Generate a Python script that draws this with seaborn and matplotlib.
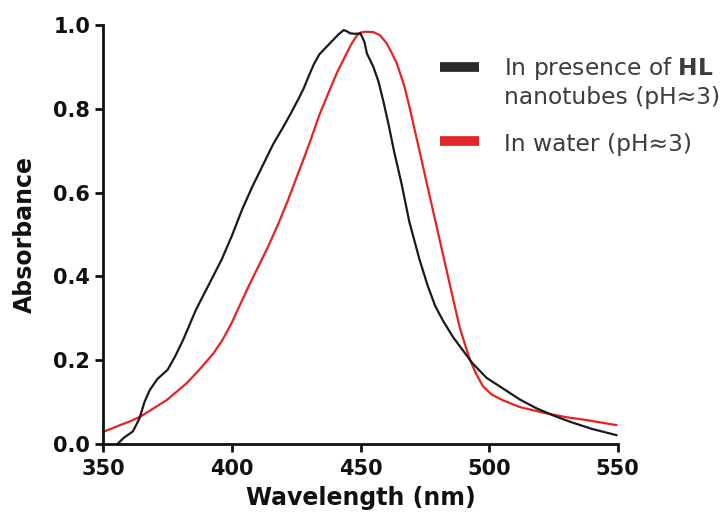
import matplotlib
matplotlib.use("Agg")
import matplotlib.pyplot as plt
import seaborn as sns
import pandas as pd
from matplotlib.lines import Line2D

# UV-vis absorbance spectra (normalised)
wl_hl = [355.5, 358, 361.5, 364, 366, 368, 371, 375, 378, 381, 386, 390, 396,
         400, 404, 408, 412, 416, 420, 423, 426, 428, 430, 432, 434, 436.5,
         439, 441.5, 443.5, 445, 446, 448, 450, 451.5, 452.5, 455, 457, 459,
         461, 463, 466, 469, 473, 476, 479, 482, 486, 490, 493.5, 499, 505.5,
         512, 518.5, 525, 531.5, 540, 549.6]
abs_hl = [0.0, 0.015, 0.03, 0.06, 0.10, 0.128, 0.155, 0.177, 0.21, 0.248, 0.32,
          0.368, 0.44, 0.497, 0.56, 0.615, 0.665, 0.715, 0.757, 0.79, 0.825,
          0.85, 0.88, 0.908, 0.93, 0.946, 0.962, 0.978, 0.988, 0.984, 0.98,
          0.979, 0.98, 0.96, 0.932, 0.90, 0.865, 0.815, 0.76, 0.70, 0.62, 0.53,
          0.439, 0.38, 0.33, 0.295, 0.255, 0.222, 0.193, 0.158, 0.132, 0.106,
          0.085, 0.068, 0.053, 0.036, 0.021]

wl_water = [350, 356.5, 360, 364.3, 369, 374.7, 382.4, 387, 392.8, 396.5, 400,
            403, 406, 410, 414, 418, 422, 426, 430, 434, 438, 441, 444, 446.5,
            448.5, 450, 452, 455, 457.5, 460.2, 462, 464.1, 467, 469.2, 473.1,
            476, 479.6, 482.2, 485, 488.5, 490.5, 492.6, 495, 497.7, 501, 505.5,
            512, 522.4, 530, 538, 549.6]
abs_water = [0.029, 0.045, 0.053, 0.065, 0.083, 0.105, 0.145, 0.175, 0.216,
             0.25, 0.29, 0.33, 0.37, 0.42, 0.47, 0.525, 0.585, 0.65, 0.715,
             0.785, 0.845, 0.888, 0.925, 0.955, 0.974, 0.982, 0.984, 0.983,
             0.976, 0.956, 0.935, 0.909, 0.855, 0.80, 0.695, 0.616, 0.519,
             0.449, 0.373, 0.28, 0.24, 0.20, 0.167, 0.137, 0.118, 0.104, 0.088,
             0.073, 0.064, 0.057, 0.045]

labels = ["In presence of $\\mathbf{HL}$", "nanotubes (pH\u22483)", "In water (pH\u22483)"]
line_colors = ["#1a1a1a", "#e8221f"]
legend_colors = ["#2a2a2a", "#e0282c"]

sns.set_theme(style="ticks")
plt.rcParams["font.family"] = ["DejaVu Sans"]
plt.rcParams["mathtext.fontset"] = "dejavusans"

fig = plt.figure(figsize=(7.21, 5.2), dpi=100)
ax = fig.add_axes([103.3 / 721, 1 - 444 / 520, (617.7 - 103.3) / 721, (444 - 25) / 520])

df_hl = pd.DataFrame({"wl": wl_hl, "abs": abs_hl})
df_w = pd.DataFrame({"wl": wl_water, "abs": abs_water})
sns.lineplot(data=df_w, x="wl", y="abs", color=line_colors[1], lw=1.6,
             sort=False, estimator=None, ax=ax, clip_on=False)
sns.lineplot(data=df_hl, x="wl", y="abs", color=line_colors[0], lw=1.6,
             sort=False, estimator=None, ax=ax, clip_on=False)

ax.set_xlim(350, 550)
ax.set_ylim(0, 1.0)
ax.set_xticks([350, 400, 450, 500, 550])
ax.set_yticks([0.0, 0.2, 0.4, 0.6, 0.8, 1.0])
ax.set_yticklabels([f"{v:.1f}" for v in [0.0, 0.2, 0.4, 0.6, 0.8, 1.0]])
for s in ["top", "right"]:
    ax.spines[s].set_visible(False)
for s in ["left", "bottom"]:
    ax.spines[s].set_linewidth(2.0)
    ax.spines[s].set_color("#111111")
ax.tick_params(axis="both", direction="out", length=6, width=2.0, color="#111111",
               labelsize=15, labelcolor="#111111")
ax.tick_params(axis="x", pad=5)
ax.tick_params(axis="y", pad=3.5)
for lab in ax.get_xticklabels() + ax.get_yticklabels():
    lab.set_fontweight("bold")

ax.set_xlabel("Wavelength (nm)", fontsize=17, fontweight="bold", labelpad=5, color="#111111")
ax.set_ylabel("Absorbance", fontsize=17, fontweight="bold", labelpad=12, color="#111111")

# legend drawn in figure coordinates
def fy(px):
    return 1 - px / 520

fig.add_artist(Line2D([440 / 721, 479 / 721], [fy(66.5), fy(66.5)],
                      color=legend_colors[0], lw=7, solid_capstyle="butt"))
fig.add_artist(Line2D([440 / 721, 479 / 721], [fy(141.5), fy(141.5)],
                      color=legend_colors[1], lw=7, solid_capstyle="butt"))
txt_color = "#3c3c3c"
fig.text(504 / 721, fy(75), labels[0], fontsize=16.8, color=txt_color, va="baseline")
fig.text(504 / 721, fy(104), labels[1], fontsize=16.8, color=txt_color, va="baseline")
fig.text(504 / 721, fy(151), labels[2], fontsize=16.8, color=txt_color, va="baseline")

fig.savefig("out.png", dpi=100, facecolor="white")
